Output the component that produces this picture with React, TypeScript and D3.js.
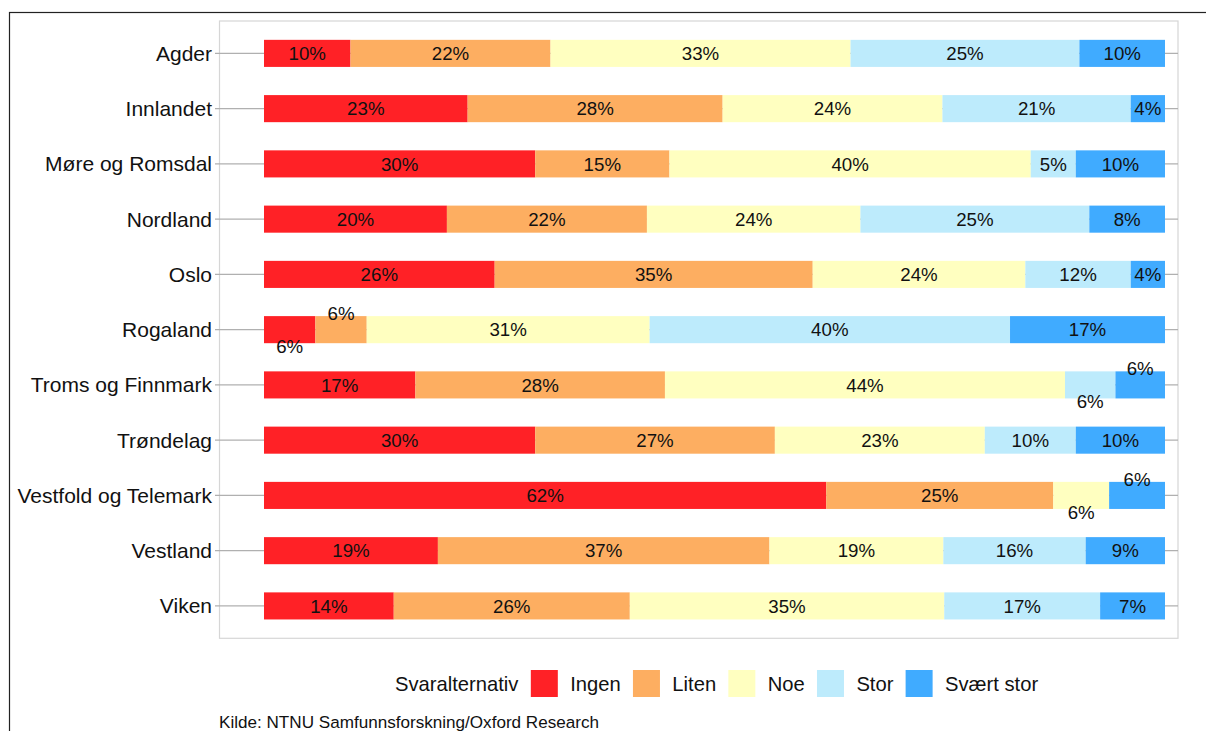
import React, { useEffect, useRef } from 'react';
import * as d3 from 'd3';

const categories = ['Agder', 'Innlandet', 'Møre og Romsdal', 'Nordland', 'Oslo', 'Rogaland', 'Troms og Finnmark', 'Trøndelag', 'Vestfold og Telemark', 'Vestland', 'Viken'];
const answers = ['Ingen', 'Liten', 'Noe', 'Stor', 'Svært stor'];
const answerColors = ['#FF2126', '#FDAE61', '#FFFFC0', '#BDEBFC', '#40ABFF'];
const ingen = [9.6, 22.6, 30.1, 20.3, 25.6, 5.7, 16.8, 30.1, 62.4, 19.3, 14.4];
const liten = [22.2, 28.3, 14.9, 22.2, 35.3, 5.7, 27.7, 26.6, 25.2, 36.8, 26.2];
const noe = [33.3, 24.4, 40.1, 23.7, 23.6, 31.4, 44.4, 23.3, 6.2, 19.3, 34.9];
const stor = [25.4, 20.9, 5.0, 25.4, 11.7, 40.0, 5.6, 10.1, 0, 15.8, 17.3];
const svaertStor = [9.5, 3.8, 9.9, 8.4, 3.8, 17.2, 5.5, 9.9, 6.2, 8.8, 7.2];
const legendTitle = 'Svaralternativ';
const caption = 'Kilde: NTNU Samfunnsforskning/Oxford Research';

const W = 1206;
const H = 731;
const FONT = '"Liberation Sans", Arial, Helvetica, sans-serif';

export default function App() {
  const ref = useRef<SVGSVGElement | null>(null);

  useEffect(() => {
    const svg = d3.select(ref.current);
    svg.selectAll('*').remove();

    const series = [ingen, liten, noe, stor, svaertStor];
    const rows = categories.map((c, i) => {
      const r: any = { cat: c };
      answers.forEach((a, k) => (r[a] = series[k][i]));
      return r;
    });
    const stacked = d3.stack().keys(answers)(rows);

    const panel = { x0: 219.5, x1: 1178, y0: 21, y1: 638.3 };
    const x = d3.scaleLinear().domain([0, 100]).range([264, 1165]);
    const y = d3.scalePoint<string>().domain(categories).range([panel.y0, panel.y1]).padding(0.586);
    const barH = y.step() * 0.49;

    // outer frame
    svg.append('rect').attr('x', 9.5).attr('y', 12.5).attr('width', W + 20).attr('height', H + 20)
      .attr('fill', 'none').attr('stroke', '#222').attr('stroke-width', 1.2);

    // panel border
    svg.append('rect').attr('x', panel.x0).attr('y', panel.y0)
      .attr('width', panel.x1 - panel.x0).attr('height', panel.y1 - panel.y0)
      .attr('fill', 'none').attr('stroke', '#d6d6d6').attr('stroke-width', 1.2);

    // gridlines + ticks
    svg.append('g').selectAll('line').data(categories).join('line')
      .attr('x1', 215).attr('x2', panel.x1)
      .attr('y1', (d) => y(d)!).attr('y2', (d) => y(d)!)
      .attr('stroke', '#b0b0b0').attr('stroke-width', 1.3);

    // axis labels
    svg.append('g').selectAll('text').data(categories).join('text')
      .attr('x', 212).attr('y', (d) => y(d)!).attr('dy', '0.36em')
      .attr('text-anchor', 'end').attr('font-family', FONT).attr('font-size', 21)
      .attr('fill', '#111').text((d) => d);

    // bars
    const gBars = svg.append('g');
    stacked.forEach((s, k) => {
      gBars.selectAll(null).data(s).join('rect')
        .attr('x', (d) => x(d[0]))
        .attr('width', (d) => Math.max(0, x(d[1]) - x(d[0])))
        .attr('y', (d: any) => y(d.data.cat)! - barH / 2)
        .attr('height', barH)
        .attr('fill', answerColors[k]);
    });

    // labels
    const gLab = svg.append('g');
    categories.forEach((c, i) => {
      const segs = answers.map((a, k) => ({ k, v: series[k][i], s0: stacked[k][i][0], s1: stacked[k][i][1] }))
        .filter((s) => s.v > 0);
      const offs = segs.map(() => 0);
      for (let j = 0; j < segs.length - 1; j++) {
        if (segs[j].v < 7 && segs[j + 1].v < 7 && offs[j] === 0) {
          offs[j] = 16.5;
          offs[j + 1] = -16.5;
          j++;
        }
      }
      segs.forEach((s, j) => {
        gLab.append('text')
          .attr('x', x((s.s0 + s.s1) / 2))
          .attr('y', y(c)! + offs[j])
          .attr('dy', '0.36em')
          .attr('text-anchor', 'middle')
          .attr('font-family', FONT).attr('font-size', 18.7)
          .attr('fill', '#111')
          .text(Math.round(s.v) + '%');
      });
    });

    // legend
    const lg = svg.append('g');
    const ly = 683.5;
    const keySize = 27;
    let cx = 395;
    const title = lg.append('text').attr('x', cx).attr('y', ly).attr('dy', '0.36em')
      .attr('font-family', FONT).attr('font-size', 20.2).attr('fill', '#111').text(legendTitle);
    cx += (title.node() as SVGTextElement).getComputedTextLength() + 12.4;
    answers.forEach((a, k) => {
      lg.append('rect').attr('x', cx).attr('y', ly - keySize / 2).attr('width', keySize).attr('height', keySize)
        .attr('fill', answerColors[k]);
      cx += keySize + 12.4;
      const t = lg.append('text').attr('x', cx).attr('y', ly).attr('dy', '0.36em')
        .attr('font-family', FONT).attr('font-size', 20.2).attr('fill', '#111').text(a);
      cx += (t.node() as SVGTextElement).getComputedTextLength() + 12.2;
    });

    // caption
    svg.append('text').attr('x', 219).attr('y', 727.5)
      .attr('font-family', FONT).attr('font-size', 17.1).attr('fill', '#111').text(caption);
  }, []);

  return (
    <svg ref={ref} width={W} height={H}
      style={{ position: 'absolute', left: 0, top: 0, background: '#fff', display: 'block' }} />
  );
}
